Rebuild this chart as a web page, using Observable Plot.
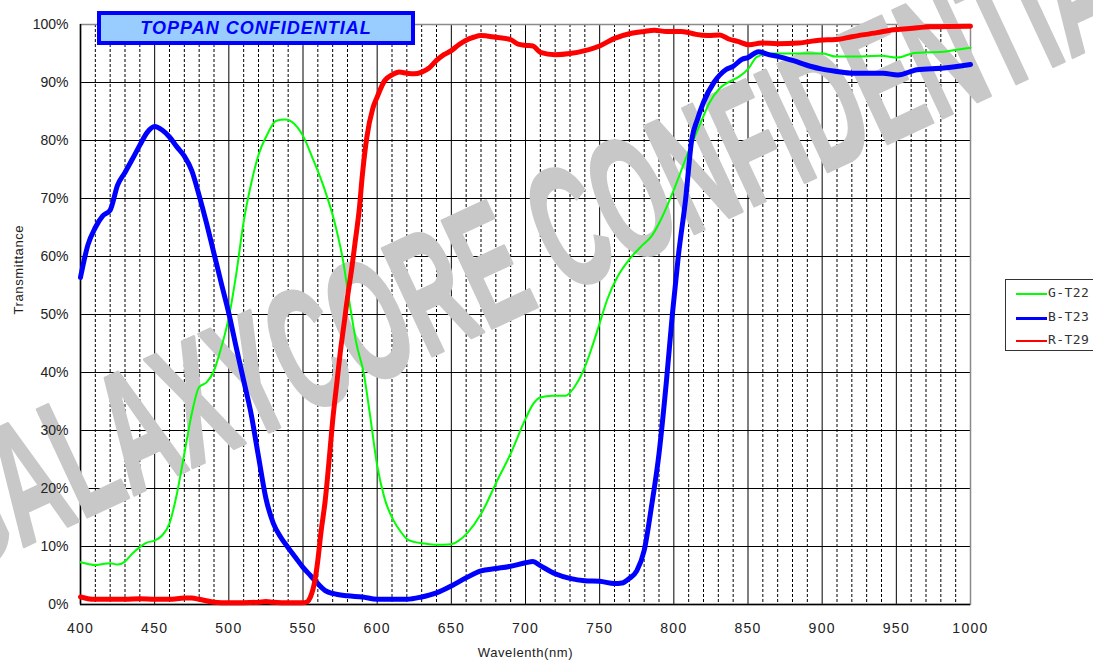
<!DOCTYPE html>
<html>
<head>
<meta charset="utf-8">
<script src="https://cdn.jsdelivr.net/npm/d3@7"></script>
<script src="https://cdn.jsdelivr.net/npm/@observablehq/plot@0.6"></script>
<style>
  html, body { margin: 0; padding: 0; background: #fff; }
  #wrap { position: relative; width: 1093px; height: 664px; overflow: hidden; font-family: "Liberation Sans", Arial, sans-serif; }
  #wrap svg { display: block; }
  #title { position: absolute; left: 97px; top: 11px; width: 310px; height: 26px; border: 4px solid #0000ff;
           background: #99ccff; color: #0000ff; font: italic bold 18px "Liberation Sans", Arial, sans-serif;
           text-align: center; line-height: 26px; letter-spacing: 1px; }
  #legend { position: absolute; left: 1005px; top: 279px; width: 95px; height: 70px; border: 1px solid #333; background: #fff; }
  .row { position: absolute; left: 0; height: 20px; width: 95px; }
  .sw { position: absolute; left: 10px; width: 31px; top: 9px; }
  .lb { position: absolute; left: 42px; top: 1px; font: 13px "DejaVu Sans Mono", "Liberation Mono", monospace; color: #333; letter-spacing: 0.4px; }
</style>
</head>
<body>
<div id="wrap">
  <div id="title"></div>
  <div id="legend"></div>
</div>
<script>
// ---- data ----
const titleText = "TOPPAN CONFIDENTIAL";
const watermarkText = ["GALAXYCORE CONFIDENTIAL"];
const xTitle = "Wavelenth(nm)";
const yTitle = "Transmittance";
const seriesNames = ["G-T22", "B-T23", "R-T29"];

const greenNm = [400,405,410,415,420,425,430,435,440,445,450,455,460,465,470,475,480,485,490,495,500,505,510,515,520,526,532,538,544,550,557,564,571,577,582,586,591,595,600,605,611,616,620,625,632,640,650,655,661,670,681,690,700,705,710,718,727,733,739,745,750,755,762,770,779,785,791,800,809,818,824,831,838,844,850,856,865,880,900,909,925,940,951,962,973,982,992,1000];
const greenT = [7.3,7.0,6.8,7.0,7.1,6.9,7.4,8.8,9.9,10.7,11,11.9,14,19.1,26,32.9,37.5,38.3,40.3,44.4,49.5,57,66,72.5,77.5,81.1,83.4,83.6,82.9,80.8,76.6,72,66.2,59.3,51,45,39.8,33,24,18.3,14.5,12.5,11.3,10.8,10.5,10.3,10.4,11,12.4,15.6,21.4,26,32,34.5,35.7,36,36,37.5,40.3,44.5,48.5,52.5,56.5,59.5,62,63.5,66.2,71.5,77.5,83,86.5,89,90.2,91,92.3,94.4,95,95,95,94.5,94.5,94.6,94.3,95.1,95.2,95.3,95.7,96];

const blueNm = [400,405,410,415,420,425,430,435,440,445,450,455,460,465,470,475,480,485,490,495,500,505,510,515,520,525,530,535,540,545,550,555,560,565,570,580,590,600,610,620,630,640,650,660,670,680,690,700,705,710,720,730,740,750,760,765,770,775,780,785,790,795,799,803,808,812,816,820,827,835,840,846,850,857,864,870,880,892,900,910,920,930,941,951,964,982,1000];
const blueT = [56.4,62,65,67,68,72.3,74.5,76.8,79.2,81.4,82.4,81.8,80.6,78.9,77.3,74.8,70.5,65.7,60.5,55.3,50.2,44.3,38.6,32.9,25.5,18.3,14,11.6,9.8,8.1,6.4,5,3.6,2.4,1.9,1.5,1.3,0.9,0.9,0.9,1.3,2,3.2,4.6,5.8,6.2,6.6,7.2,7.4,6.7,5.3,4.5,4.1,4,3.6,3.7,4.5,5.8,9.3,17,26,38.5,50,60,70,80,83.7,86.6,90,92.2,92.8,94,94.3,95.3,94.8,94.5,93.8,92.8,92.3,91.9,91.6,91.6,91.6,91.3,92.2,92.5,93.1];

const redNm = [400,405,410,420,430,440,450,460,470,475,480,490,500,510,520,525,530,540,550,553,555,558,560,562,565,568,570,573,575,578,580,583,585,588,590,593,597,600,605,610,615,620,625,630,635,640,645,650,655,660,665,670,680,690,695,700,705,710,720,730,740,750,760,770,780,787,795,805,810,815,823,831,837,843,851,859,870,884,898,909,920,937,948,959,973,1000];
const redT = [1.3,1.0,0.9,0.9,0.9,1.0,0.9,0.9,1.1,1.1,0.9,0.4,0.3,0.3,0.4,0.5,0.4,0.3,0.3,0.5,1.3,4.1,7.6,12.2,18,26,31.7,38.6,43.2,49,53,58.2,62.2,68.3,74,80.5,85.5,87.5,90.3,91.3,91.8,91.6,91.5,91.8,92.5,93.8,94.8,95.5,96.5,97.3,97.8,98.1,97.8,97.4,96.6,96.4,96.3,95.2,94.8,95,95.5,96.3,97.6,98.4,98.8,99,98.8,98.8,98.6,98.3,98.1,98.2,97.5,97.1,96.5,96.8,96.7,96.8,97.3,97.4,97.9,98.6,99.1,99.3,99.6,99.7];

const xMajor = d3.range(400, 1001, 50);
const xMinor = d3.range(400, 1001, 10).filter(d => d % 50 !== 0);
const yTicks = d3.range(0, 101, 10);

// ---- build ----
const series = [
  {name: seriesNames[0], nm: greenNm, t: greenT, color: "#00ff00", width: 2},
  {name: seriesNames[1], nm: blueNm,  t: blueT,  color: "#0000ff", width: 5},
  {name: seriesNames[2], nm: redNm,   t: redT,   color: "#ff0000", width: 5}
];
const rows = s => s.nm.map((x, i) => ({nm: x, t: s.t[i]}));

const font = "Liberation Sans, Arial, sans-serif";

const chart = Plot.plot({
  width: 1093,
  height: 664,
  marginLeft: 80,
  marginRight: 123,
  marginTop: 24,
  marginBottom: 60,
  style: {fontFamily: font, fontSize: "14px", color: "#222", background: "transparent", overflow: "visible"},
  x: {domain: [400, 1000], label: null},
  y: {domain: [0, 100], label: null},
  marks: [
    Plot.ruleX(xMinor, {stroke: "#000", strokeWidth: 1, strokeDasharray: "3,2"}),
    Plot.ruleX(xMajor, {stroke: "#000", strokeWidth: 1}),
    Plot.ruleY(yTicks, {stroke: "#000", strokeWidth: 1}),
    Plot.frame({stroke: "#8a8a8a", strokeWidth: 1.5}),
    Plot.ruleX([400], {stroke: "#000", strokeWidth: 1.5}),
    Plot.ruleY([0], {stroke: "#000", strokeWidth: 1.5}),
    Plot.text(watermarkText, {text: d => d, frameAnchor: "middle", dx: 20, dy: -72, rotate: -25,
      fontSize: 172, fontWeight: "bold", fill: "#c8c8c8", stroke: "#c8c8c8", strokeWidth: 3, fontFamily: font}),
    ...series.map(s => Plot.line(rows(s), {x: "nm", y: "t", stroke: s.color, strokeWidth: s.width,
      curve: "monotone-x", strokeLinejoin: "round", strokeLinecap: "round"})),
    Plot.axisX({ticks: xMajor, tickSize: 0, tickPadding: 19, fontSize: 14, tickFormat: d => String(d), label: null}),
    Plot.axisY({ticks: yTicks, tickSize: 0, tickPadding: 12, fontSize: 14, tickFormat: d => d + "%", label: null}),
    Plot.text([xTitle], {text: d => d, frameAnchor: "bottom", dy: 52, fontSize: 13, fill: "#222"}),
    Plot.text([yTitle], {text: d => d, frameAnchor: "left", dx: -62, rotate: -90, fontSize: 13, fill: "#222"})
  ]
});

const svg = d3.select(chart);
svg.selectAll("text").filter(function() { return this.textContent === watermarkText[0]; })
  .attr("textLength", 1350).attr("lengthAdjust", "spacingAndGlyphs");
svg.selectAll('g[aria-label="x-axis tick label"] text').attr("letter-spacing", "1.3px");
svg.selectAll("text").filter(function() { return this.textContent === xTitle || this.textContent === yTitle; })
  .attr("letter-spacing", "0.6px");

const wrap = document.getElementById("wrap");
wrap.insertBefore(chart, wrap.firstChild);

document.getElementById("title").textContent = titleText;
const legend = d3.select("#legend");
series.forEach((s, i) => {
  const row = legend.append("div").attr("class", "row").style("top", (4 + i * 23.5) + "px");
  row.append("div").attr("class", "sw").style("border-top", `${i === 1 ? 3 : 2}px solid ${s.color}`);
  row.append("div").attr("class", "lb").text(s.name);
});
</script>
</body>
</html>
